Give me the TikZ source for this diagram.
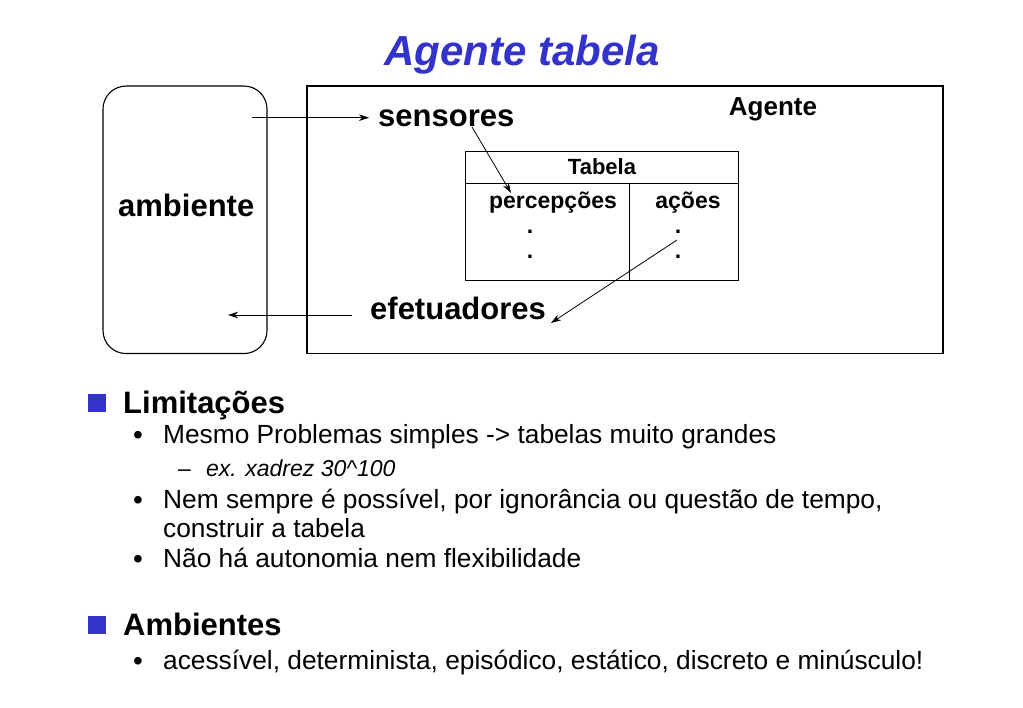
\documentclass[tikz,border=0pt]{standalone}
\usepackage{fontspec}
\setmainfont{Liberation Sans}
\usetikzlibrary{arrows.meta}
\definecolor{slideblue}{RGB}{51,51,204}
\tikzset{
  txt/.style={inner sep=0pt, anchor=base west},
  ctxt/.style={inner sep=0pt, anchor=base},
  bigb/.style={font=\bfseries\fontsize{31}{31}\selectfont},
  midb/.style={font=\bfseries\fontsize{23}{23}\selectfont},
  body/.style={font=\fontsize{26.3}{26.3}\selectfont},
  bul/.style={inner sep=0pt, anchor=base, font=\fontsize{28}{28}\selectfont},
  arr/.style={-{Stealth[length=10pt,width=6.5pt,inset=3pt]}, line width=0.8pt},
  frame/.style={draw, line width=1.1pt},
  bluesq/.style={fill=slideblue, draw=none, inner sep=0pt, minimum size=17.5pt},
}
\begin{document}
\begin{tikzpicture}[x=1pt,y=-1pt]
\useasboundingbox (0,0) rectangle (1023,708);
% title
\node[ctxt, text=slideblue, font=\bfseries\itshape\fontsize{42}{42}\selectfont] (title) at (522,66) {Agente tabela};
% boxes
\node[frame, rounded corners=23pt, minimum width=164pt, minimum height=267.5pt, inner sep=0pt] (amb) at (185,219.8) {};
\node[frame, minimum width=636pt, minimum height=267.5pt, inner sep=0pt] (ag) at (625,219.8) {};
\node[ctxt, font=\bfseries\fontsize{26}{26}\selectfont] (aglabel) at (773,116) {Agente};
\node[txt, bigb] (amblabel) at (118,217) {ambiente};
\node[txt, bigb] (sens) at (378,127) {sensores};
\node[txt, bigb] (efet) at (370,320) {efetuadores};
% table
\node[frame, minimum width=273.5pt, minimum height=128.5pt, inner sep=0pt] (tab) at (601.8,216) {};
\coordinate (hl) at (465,183.3);
\coordinate (hr) at (738.5,183.3);
\coordinate (vt) at (629.3,183.3);
\coordinate (vb) at (629.3,280.2);
\draw[line width=1.1pt] (hl) -- (hr);
\draw[line width=1.1pt] (vt) -- (vb);
\node[ctxt, font=\bfseries\fontsize{22}{22}\selectfont] (tabh) at (602,175) {Tabela};
\node[ctxt, midb] (perc) at (553,208.5) {percepções};
\node[ctxt, midb] (acoes) at (688,208.5) {ações};
\node[ctxt, midb] (d1) at (530,234) {.};
\node[ctxt, midb] (d2) at (530,259) {.};
\node[ctxt, midb] (d3) at (678,234) {.};
\node[ctxt, midb] (d4) at (678,259) {.};
% arrows
\coordinate (a1s) at (252,117.7);
\coordinate (a1e) at (369,117.7);
\draw[arr] (a1s) -- (a1e);
\coordinate (a2s) at (472,127);
\coordinate (a2e) at (511,193);
\draw[arr] (a2s) -- (a2e);
\coordinate (a3s) at (677,240);
\coordinate (a3e) at (551,323);
\draw[arr] (a3s) -- (a3e);
\coordinate (a4s) at (352,315);
\coordinate (a4e) at (228,315);
\draw[arr] (a4s) -- (a4e);
% bullets
\node[bluesq] (sq1) at (97,403) {};
\node[txt, font=\bfseries\fontsize{31}{31}\selectfont] (lim) at (123,413.5) {Limitações};
\node[bul] (b1) at (138,445) {•};
\node[txt, body] (l1) at (163,444) {Mesmo Problemas simples -> tabelas muito grandes};
\node[txt, font=\fontsize{23}{23}\selectfont] (dash) at (178,476) {–};
\node[txt, font=\itshape\fontsize{23}{23}\selectfont] (l2) at (206,476) {ex. xadrez 30\^{}100};
\node[bul] (b2) at (138,509) {•};
\node[txt, body] (l3) at (163,508) {Nem sempre é possível, por ignorância ou questão de tempo,};
\node[txt, body] (l4) at (163,537) {construir a tabela};
\node[bul] (b3) at (138,568) {•};
\node[txt, body] (l5) at (163,567) {Não há autonomia nem flexibilidade};
\node[bluesq] (sq2) at (97,625) {};
\node[txt, font=\bfseries\fontsize{31}{31}\selectfont] (amb2) at (123,635.5) {Ambientes};
\node[bul] (b4) at (138,670) {•};
\node[txt, body] (l6) at (163,669) {acessível, determinista, episódico, estático, discreto e minúsculo!};
\end{tikzpicture}
\end{document}
